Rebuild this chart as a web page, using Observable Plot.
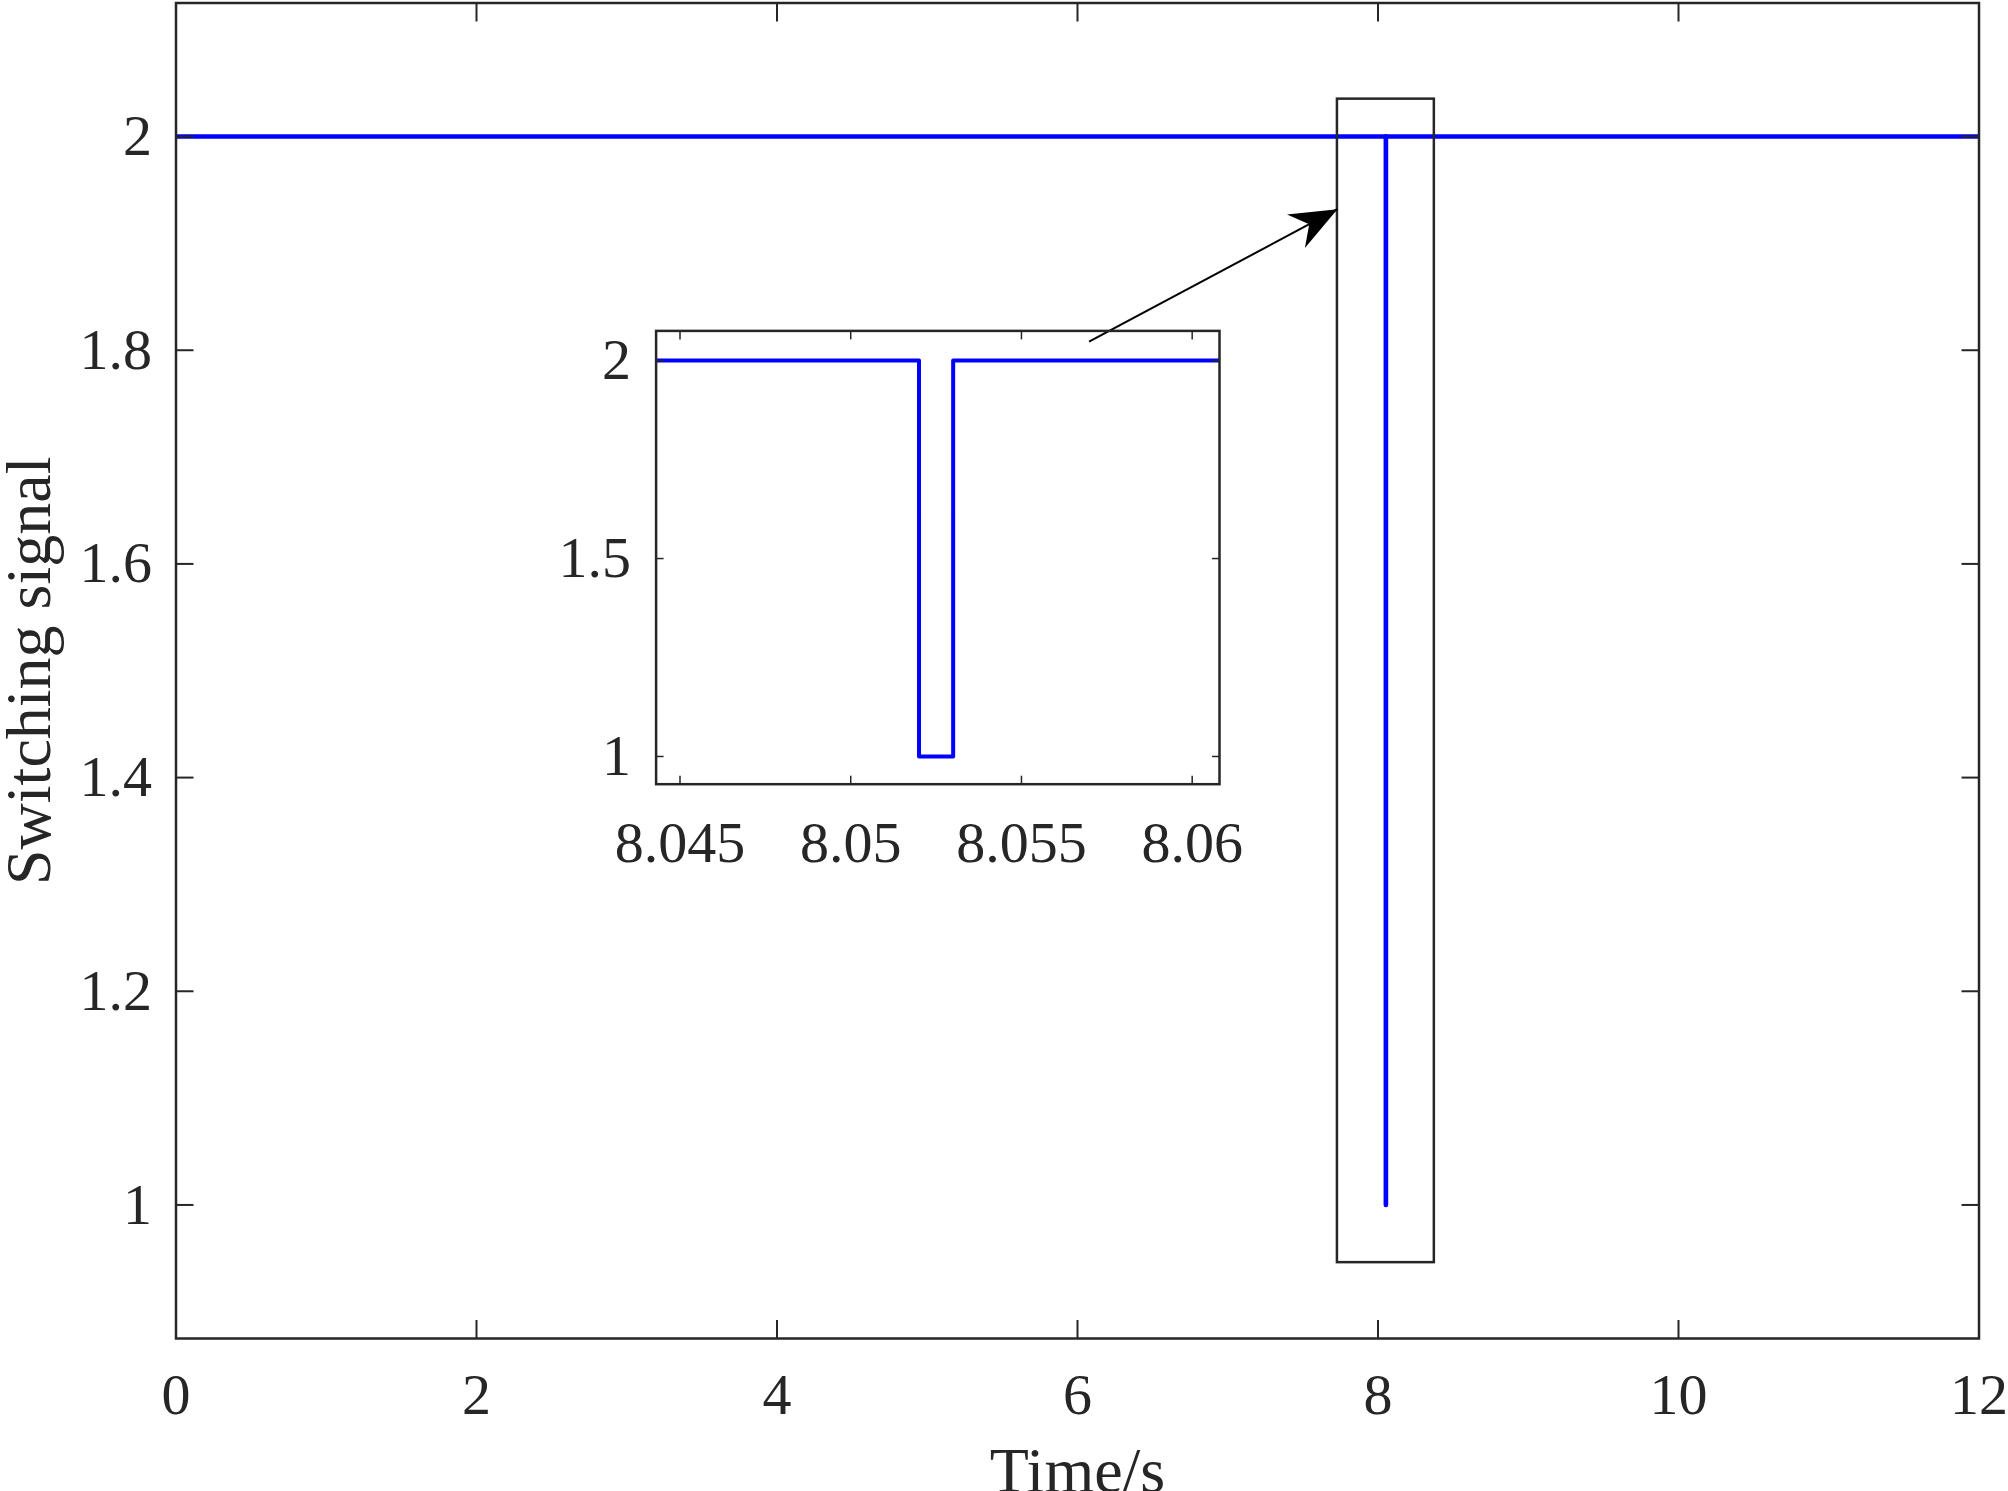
<!DOCTYPE html>
<html><head><meta charset="utf-8">
<script src="https://cdn.jsdelivr.net/npm/d3@7"></script>
<script src="https://cdn.jsdelivr.net/npm/@observablehq/plot@0.6"></script>
<style>
html,body{margin:0;padding:0;background:#fff;}
#wrap{position:relative;width:2008px;height:1491px;overflow:hidden;}
#inset{position:absolute;left:540px;top:300px;}
</style></head><body>
<div id="wrap"><div id="main"></div><div id="inset"></div></div>
<script>
// ---- data ----
const time   = [0, 8.0520, 8.0520, 8.0530, 8.0530, 12];
const signal = [2, 2, 1, 1, 2, 2];
const xDomain = [0, 12];
const yDomain = [0.875, 2.125];
const xTicks = [0, 2, 4, 6, 8, 10, 12];
const yTicks = [1, 1.2, 1.4, 1.6, 1.8, 2];
const insetXDomain = [8.0443, 8.0608];
const insetYDomain = [0.93, 2.075];
const insetXTicks = [8.045, 8.05, 8.055, 8.06];
const insetYTicks = [1, 1.5, 2];
const zoomBoxX = [7.73, 8.375];
const zoomBoxY = [0.946, 2.035];
const arrowFrom = [6.077, 1.808];
const arrowTo = [7.73, 1.932];
const xLabel = "Time/s";
const yLabel = "Switching signal";

const series = time.map((t, i) => ({t, v: signal[i]}));
const ink = "#262626";
const font = "Liberation Serif, Times New Roman, serif";

// ---- main chart ----
const W = 2008, H = 1491, mL = 175.5, mR = 29.5, mT = 2.5, mB = 153;
const sx = d3.scaleLinear(xDomain, [mL, W - mR]);
const sy = d3.scaleLinear(yDomain, [H - mB, mT]);
const dxp = sx(arrowTo[0]) - sx(arrowFrom[0]);
const dyp = sy(arrowTo[1]) - sy(arrowFrom[1]);
const headAngle = Math.atan2(dxp, -dyp) * 180 / Math.PI;
const headShape = {
  draw(ctx, l) {
    const w = 19;
    ctx.moveTo(0, -l);
    ctx.lineTo(w, 0);
    ctx.lineTo(0, -l * 0.32);
    ctx.lineTo(-w, 0);
    ctx.closePath();
  }
};

const main = Plot.plot({
  width: W, height: H,
  marginLeft: mL, marginRight: mR, marginTop: mT, marginBottom: mB,
  x: {domain: xDomain},
  y: {domain: yDomain},
  style: {fontFamily: font, fontSize: "58px", color: ink, background: "white"},
  marks: [
    Plot.line(series, {x: "t", y: "v", stroke: "#0000ff", strokeWidth: 4.5, clip: true}),
    Plot.rect([{x1: zoomBoxX[0], x2: zoomBoxX[1], y1: zoomBoxY[0], y2: zoomBoxY[1]}],
      {x1: "x1", x2: "x2", y1: "y1", y2: "y2", fill: "none", stroke: ink, strokeWidth: 2.5}),
    Plot.link([{a: arrowFrom, b: arrowTo}],
      {x1: d => d.a[0], y1: d => d.a[1], x2: d => d.b[0], y2: d => d.b[1], stroke: "black", strokeWidth: 2}),
    Plot.vector([arrowTo], {x: d => d[0], y: d => d[1], length: 47, rotate: headAngle, anchor: "end",
      shape: headShape, fill: "black", stroke: "none"}),
    Plot.frame({stroke: ink, strokeWidth: 2.5}),
    Plot.axisX({anchor: "bottom", ticks: xTicks, tickSize: -18, tickPadding: 52, label: null, tickFormat: d => String(d), stroke: ink, strokeWidth: 2}),
    Plot.axisX({anchor: "top", ticks: xTicks, tickSize: -18, label: null, tickFormat: () => "", stroke: ink, strokeWidth: 2}),
    Plot.axisY({anchor: "left", ticks: yTicks, tickSize: -18, tickPadding: 42, label: null, tickFormat: d => String(d), stroke: ink, strokeWidth: 2}),
    Plot.axisY({anchor: "right", ticks: yTicks, tickSize: -18, label: null, tickFormat: () => "", stroke: ink, strokeWidth: 2}),
    Plot.text([xLabel], {text: d => d, frameAnchor: "bottom", dy: 133, lineAnchor: "middle", textAnchor: "middle", fontSize: 64, fill: ink}),
    Plot.text([yLabel], {text: d => d, frameAnchor: "left", dx: -146, rotate: -90, lineAnchor: "middle", textAnchor: "middle", fontSize: 64, fill: ink})
  ]
});
document.getElementById("main").appendChild(main);

// ---- inset ----
const iW = 740, iH = 600, iL = 115.6, iR = 61, iT = 30.4, iB = 116.3;
const inset = Plot.plot({
  width: iW, height: iH,
  marginLeft: iL, marginRight: iR, marginTop: iT, marginBottom: iB,
  x: {domain: insetXDomain},
  y: {domain: insetYDomain},
  style: {fontFamily: font, fontSize: "58px", color: ink, background: "none", overflow: "visible"},
  marks: [
    Plot.line(series, {x: "t", y: "v", stroke: "#0000ff", strokeWidth: 4, clip: true}),
    Plot.frame({stroke: ink, strokeWidth: 2.5}),
    Plot.axisX({anchor: "bottom", ticks: insetXTicks, tickSize: -8, tickPadding: 45, label: null, tickFormat: d => String(d), stroke: ink, strokeWidth: 1.5}),
    Plot.axisX({anchor: "top", ticks: insetXTicks, tickSize: -8, label: null, tickFormat: () => "", stroke: ink, strokeWidth: 1.5}),
    Plot.axisY({anchor: "left", ticks: insetYTicks, tickSize: -8, tickPadding: 33, label: null, tickFormat: d => String(d), stroke: ink, strokeWidth: 1.5}),
    Plot.axisY({anchor: "right", ticks: insetYTicks, tickSize: -8, label: null, tickFormat: () => "", stroke: ink, strokeWidth: 1.5})
  ]
});
document.getElementById("inset").appendChild(inset);
</script>
</body></html>
